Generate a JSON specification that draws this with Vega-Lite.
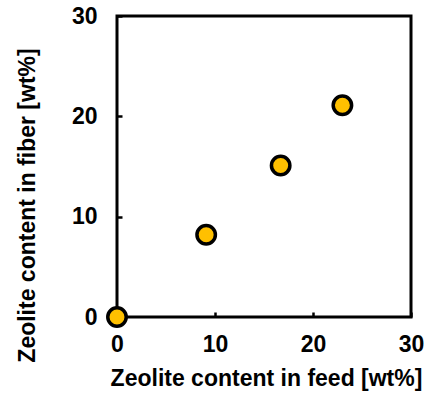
{
  "$schema": "https://vega.github.io/schema/vega-lite/v6.json",
  "autosize": "none",
  "width": 294,
  "height": 301,
  "padding": {"left": 117, "top": 16, "right": 26, "bottom": 76},
  "background": "white",
  "config": {
    "view": {"stroke": "black", "strokeWidth": 3},
    "font": "Liberation Sans",
    "axis": {
      "labelFont": "Liberation Sans",
      "titleFont": "Liberation Sans",
      "labelFontSize": 23,
      "labelFontWeight": "bold",
      "labelColor": "black",
      "titleFontSize": 23,
      "titleFontWeight": "bold",
      "titleColor": "black",
      "grid": false,
      "domain": false,
      "tickColor": "black",
      "tickWidth": 2.5,
      "tickSize": -5
    }
  },
  "data": {
    "values": [
      {"feed": 0, "fiber": 0},
      {"feed": 9.1, "fiber": 8.2},
      {"feed": 16.7, "fiber": 15.1},
      {"feed": 23.0, "fiber": 21.1}
    ]
  },
  "mark": {"type": "point", "filled": true, "fill": "#FFC000", "stroke": "black", "strokeWidth": 3.5, "size": 340, "opacity": 1, "clip": false},
  "encoding": {
    "x": {
      "field": "feed",
      "type": "quantitative",
      "scale": {"domain": [0, 30], "nice": false, "zero": false},
      "axis": {
        "values": [0, 10, 20, 30],
        "title": "Zeolite content in feed [wt%]",
        "labelBaseline": "top",
        "labelPadding": 21,
        "labelFlush": false,
        "titleBaseline": "alphabetic",
        "titleX": 149,
        "titleY": 68,
        "titleAnchor": "middle"
      }
    },
    "y": {
      "field": "fiber",
      "type": "quantitative",
      "scale": {"domain": [0, 30], "nice": false, "zero": false},
      "axis": {
        "values": [0, 10, 20, 30],
        "title": "Zeolite content in fiber [wt%]",
        "labelPadding": 25,
        "labelFlush": false,
        "labelBaseline": "middle",
        "titleBaseline": "alphabetic",
        "titleAngle": -90,
        "titleX": -83,
        "titleY": 189,
        "titleAnchor": "middle"
      }
    }
  }
}
